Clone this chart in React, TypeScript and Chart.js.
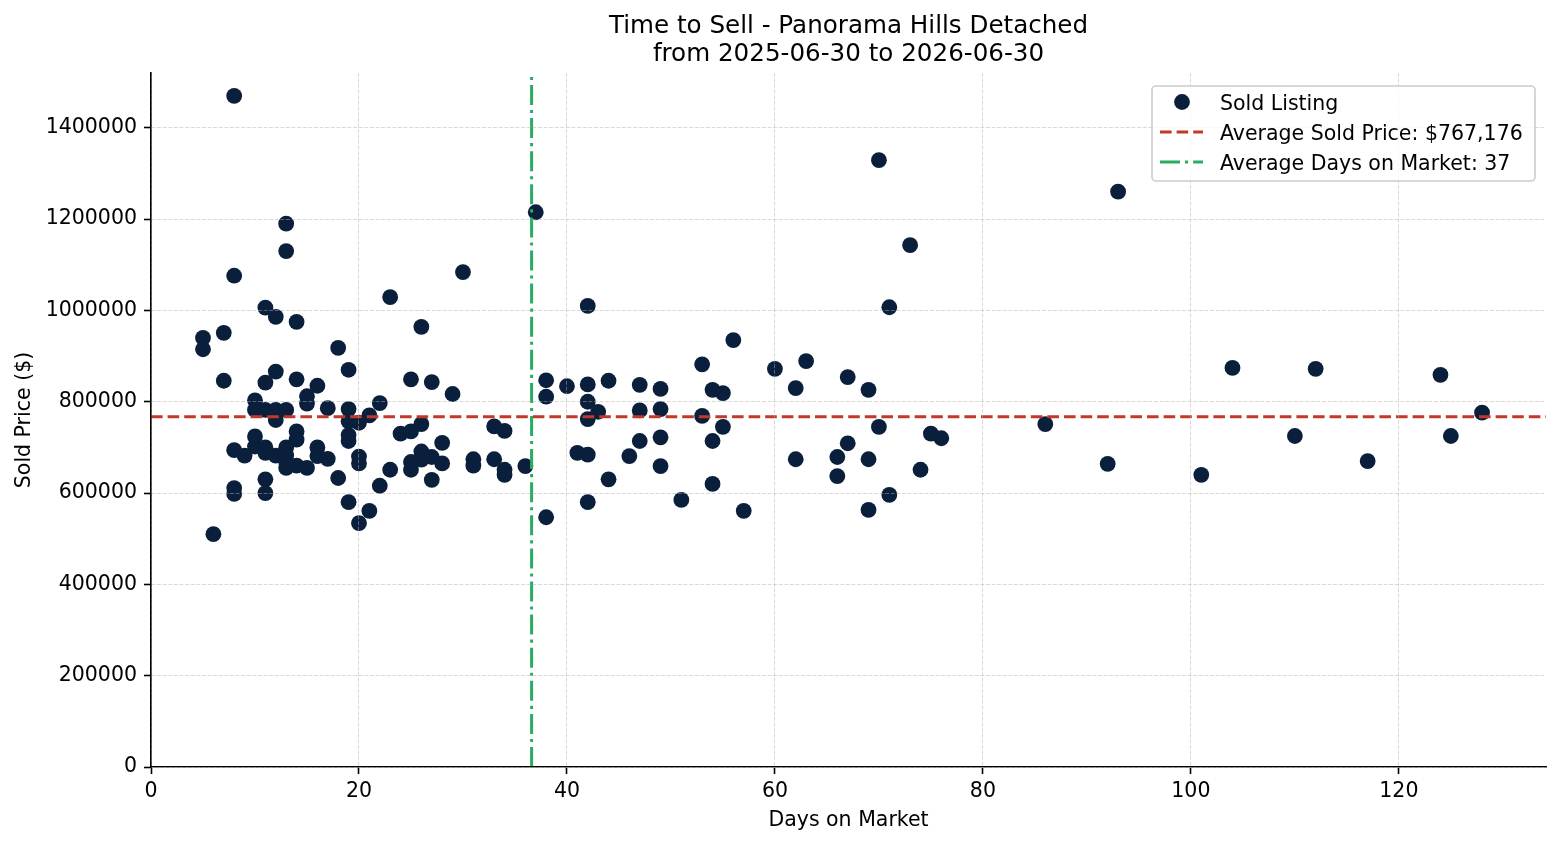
import { useEffect, useRef } from "react";
import { Chart, registerables } from "chart.js";

Chart.register(...registerables);

const TITLE_LINES = ["Time to Sell - Panorama Hills Detached", "from 2025-06-30 to 2026-06-30"];
const X_LABEL = "Days on Market";
const Y_LABEL = "Sold Price ($)";

const DAYS = [
  5, 5, 6, 7, 7, 8, 8, 8, 8, 8, 9,
  10, 10, 10, 10,
  11, 11, 11, 11, 11, 11, 11,
  12, 12, 12, 12, 12,
  13, 13, 13, 13, 13, 13, 13,
  14, 14, 14, 14, 14,
  15, 15, 15, 16, 16, 16, 17, 17, 18, 18,
  19, 19, 19, 19, 19, 19,
  20, 20, 20, 20, 21, 21, 22, 22, 23, 23, 24,
  25, 25, 25, 25, 26, 26, 26, 26, 27, 27, 27, 28, 28, 29, 30, 31, 31,
  33, 33, 34, 34, 34, 36, 37, 38, 38, 38, 40, 41,
  42, 42, 42, 42, 42, 42, 43, 44, 44, 46, 47, 47, 47,
  49, 49, 49, 49, 51, 53, 53, 54, 54, 54, 55, 55, 56, 57, 60, 62, 62, 63,
  66, 66, 67, 67, 69, 69, 69, 70, 70, 71, 71, 73, 74, 75, 76,
  86, 92, 93, 101, 104, 110, 112, 117, 124, 125, 128,
];

const PRICES = [
  940000, 915000, 510000, 951000, 846000, 1470000, 1076000, 694000, 611000, 598000, 682000,
  803000, 782000, 724000, 702000,
  1006000, 842000, 782000, 700000, 688000, 630000, 600000,
  986000, 866000, 782000, 760000, 682000,
  1190000, 1130000, 782000, 700000, 682000, 668000, 655000,
  975000, 849000, 735000, 717000, 660000,
  812000, 796000, 655000, 835000, 700000, 681000, 786000, 675000, 918000, 633000,
  870000, 784000, 757000, 727000, 714000, 580000,
  754000, 680000, 665000, 534000, 770000, 561000, 797000, 616000, 1029000, 651000, 730000,
  849000, 735000, 668000, 651000, 964000, 751000, 691000, 673000, 843000, 679000, 629000, 710000, 665000, 817000, 1084000, 674000, 660000,
  746000, 674000, 736000, 651000, 640000, 659000, 1215000, 847000, 811000, 547000, 834000, 688000,
  1010000, 838000, 800000, 762000, 684000, 580000, 778000, 846000, 630000, 681000, 837000, 781000, 714000,
  828000, 784000, 722000, 659000, 585000, 882000, 769000, 826000, 714000, 620000, 819000, 745000, 935000, 561000, 872000, 830000, 674000, 889000,
  679000, 637000, 854000, 709000, 826000, 674000, 563000, 1329000, 745000, 1007000, 596000, 1143000, 651000, 730000, 720000,
  751000, 664000, 1260000, 640000, 874000, 725000, 872000, 670000, 859000, 725000, 776000,
];

const AVG_PRICE = 767176;
const AVG_DAYS = 36.6;

const X_MIN = 0;
const X_MAX = 134.15;
const Y_MIN = 0;
const Y_MAX = 1520000;
const X_TICKS = [0, 20, 40, 60, 80, 100, 120];
const Y_TICKS = [0, 200000, 400000, 600000, 800000, 1000000, 1200000, 1400000];

const LEGEND_LABELS = [
  "Sold Listing",
  `Average Sold Price: $${AVG_PRICE.toLocaleString("en-US")}`,
  `Average Days on Market: ${Math.round(AVG_DAYS)}`,
];

const FONT = '"DejaVu Sans", sans-serif';
const POINT_COLOR = "#0a1f3c";
const RED = "#c0392b";
const GREEN = "#27ae60";
const GRID_COLOR = "rgba(176,176,176,0.55)";
const RED_DASH = [11.6, 5];
const GREEN_DASH = [20, 5, 3.1, 5];

const overlayPlugin = {
  id: "overlay",
  afterDraw(chart: any) {
    const { ctx, chartArea } = chart;
    const cx = (chartArea.left + chartArea.right) / 2;
    ctx.save();
    ctx.fillStyle = "#000";
    ctx.font = `24.6px ${FONT}`;
    ctx.textAlign = "center";
    ctx.textBaseline = "alphabetic";
    ctx.fillText(TITLE_LINES[0], cx, 33);
    ctx.fillText(TITLE_LINES[1], cx, 61);
    ctx.font = `20.5px ${FONT}`;
    ctx.fillText(X_LABEL, cx, 826);
    ctx.save();
    ctx.translate(30, (chartArea.top + chartArea.bottom) / 2);
    ctx.rotate(-Math.PI / 2);
    ctx.fillText(Y_LABEL, 0, 0);
    ctx.restore();

    const bx = 1152, by = 86, bw = 383, bh = 95, r = 4;
    ctx.beginPath();
    ctx.moveTo(bx + r, by);
    ctx.lineTo(bx + bw - r, by);
    ctx.arcTo(bx + bw, by, bx + bw, by + r, r);
    ctx.lineTo(bx + bw, by + bh - r);
    ctx.arcTo(bx + bw, by + bh, bx + bw - r, by + bh, r);
    ctx.lineTo(bx + r, by + bh);
    ctx.arcTo(bx, by + bh, bx, by + bh - r, r);
    ctx.lineTo(bx, by + r);
    ctx.arcTo(bx, by, bx + r, by, r);
    ctx.closePath();
    ctx.fillStyle = "rgba(255,255,255,0.8)";
    ctx.fill();
    ctx.strokeStyle = "#cccccc";
    ctx.lineWidth = 1.6;
    ctx.stroke();

    const rows = [102, 132, 162];
    ctx.beginPath();
    ctx.arc(1182, rows[0], 7.9, 0, Math.PI * 2);
    ctx.fillStyle = POINT_COLOR;
    ctx.fill();
    ctx.lineWidth = 3;
    ctx.strokeStyle = RED;
    ctx.setLineDash(RED_DASH);
    ctx.beginPath();
    ctx.moveTo(1160, rows[1]);
    ctx.lineTo(1203, rows[1]);
    ctx.stroke();
    ctx.strokeStyle = GREEN;
    ctx.setLineDash(GREEN_DASH);
    ctx.beginPath();
    ctx.moveTo(1160, rows[2]);
    ctx.lineTo(1203, rows[2]);
    ctx.stroke();
    ctx.setLineDash([]);

    ctx.fillStyle = "#000";
    ctx.textAlign = "left";
    ctx.font = `20.5px ${FONT}`;
    LEGEND_LABELS.forEach((t, i) => ctx.fillText(t, 1220, rows[i] + 8));
    ctx.restore();
  },
};

export default function App() {
  const ref = useRef<HTMLCanvasElement | null>(null);

  useEffect(() => {
    document.body.style.margin = "0";
    const canvas = ref.current;
    if (!canvas) return;

    const points = DAYS.map((d, i) => ({ x: d, y: PRICES[i] }));
    const tickFont = { family: FONT, size: 20.5 };
    const gridOpts = {
      color: GRID_COLOR,
      lineWidth: 0.9,
      z: 1,
      tickColor: "#000",
      tickLength: 7,
      tickWidth: 1.6,
      tickBorderDash: [],
    };
    const borderOpts = { display: true, color: "#000", width: 1.6, dash: [3.9, 1.7], z: 1 };

    const chart = new Chart(canvas, {
      type: "scatter",
      data: {
        datasets: [
          {
            type: "line",
            label: LEGEND_LABELS[2],
            data: [
              { x: AVG_DAYS, y: Y_MIN },
              { x: AVG_DAYS, y: Y_MAX },
            ],
            borderColor: GREEN,
            borderWidth: 3,
            borderDash: GREEN_DASH,
            pointRadius: 0,
            fill: false,
            showLine: true,
          } as any,
          {
            type: "line",
            label: LEGEND_LABELS[1],
            data: [
              { x: X_MIN, y: AVG_PRICE },
              { x: X_MAX, y: AVG_PRICE },
            ],
            borderColor: RED,
            borderWidth: 3,
            borderDash: RED_DASH,
            pointRadius: 0,
            fill: false,
            showLine: true,
          } as any,
          {
            type: "scatter",
            label: LEGEND_LABELS[0],
            data: points,
            backgroundColor: POINT_COLOR,
            borderWidth: 0,
            pointRadius: 7.9,
            pointHoverRadius: 7.9,
          } as any,
        ],
      },
      options: {
        animation: false,
        responsive: false,
        devicePixelRatio: 1,
        layout: { padding: { top: 73, right: 14, left: 0, bottom: 0 } },
        plugins: {
          legend: { display: false },
          title: { display: false },
          tooltip: { enabled: false },
        },
        events: [],
        scales: {
          x: {
            type: "linear",
            min: X_MIN,
            max: X_MAX,
            afterFit: (s: any) => {
              s.height = 78;
            },
            afterBuildTicks: (s: any) => {
              s.ticks = X_TICKS.map((v) => ({ value: v }));
            },
            ticks: {
              autoSkip: false,
              maxRotation: 0,
              color: "#000",
              font: tickFont,
              padding: 5,
              callback: (v: any) => String(v),
            },
            grid: gridOpts,
            border: borderOpts,
          },
          y: {
            type: "linear",
            min: Y_MIN,
            max: Y_MAX,
            afterFit: (s: any) => {
              s.width = 151;
            },
            afterBuildTicks: (s: any) => {
              s.ticks = Y_TICKS.map((v) => ({ value: v }));
            },
            ticks: {
              autoSkip: false,
              color: "#000",
              font: tickFont,
              padding: 7,
              callback: (v: any) => String(v),
            },
            grid: gridOpts,
            border: borderOpts,
          },
        },
      } as any,
      plugins: [overlayPlugin],
    });

    return () => chart.destroy();
  }, []);

  return (
    <div style={{ width: 1560, height: 845 }}>
      <canvas ref={ref} width={1560} height={845} style={{ display: "block" }} />
    </div>
  );
}
